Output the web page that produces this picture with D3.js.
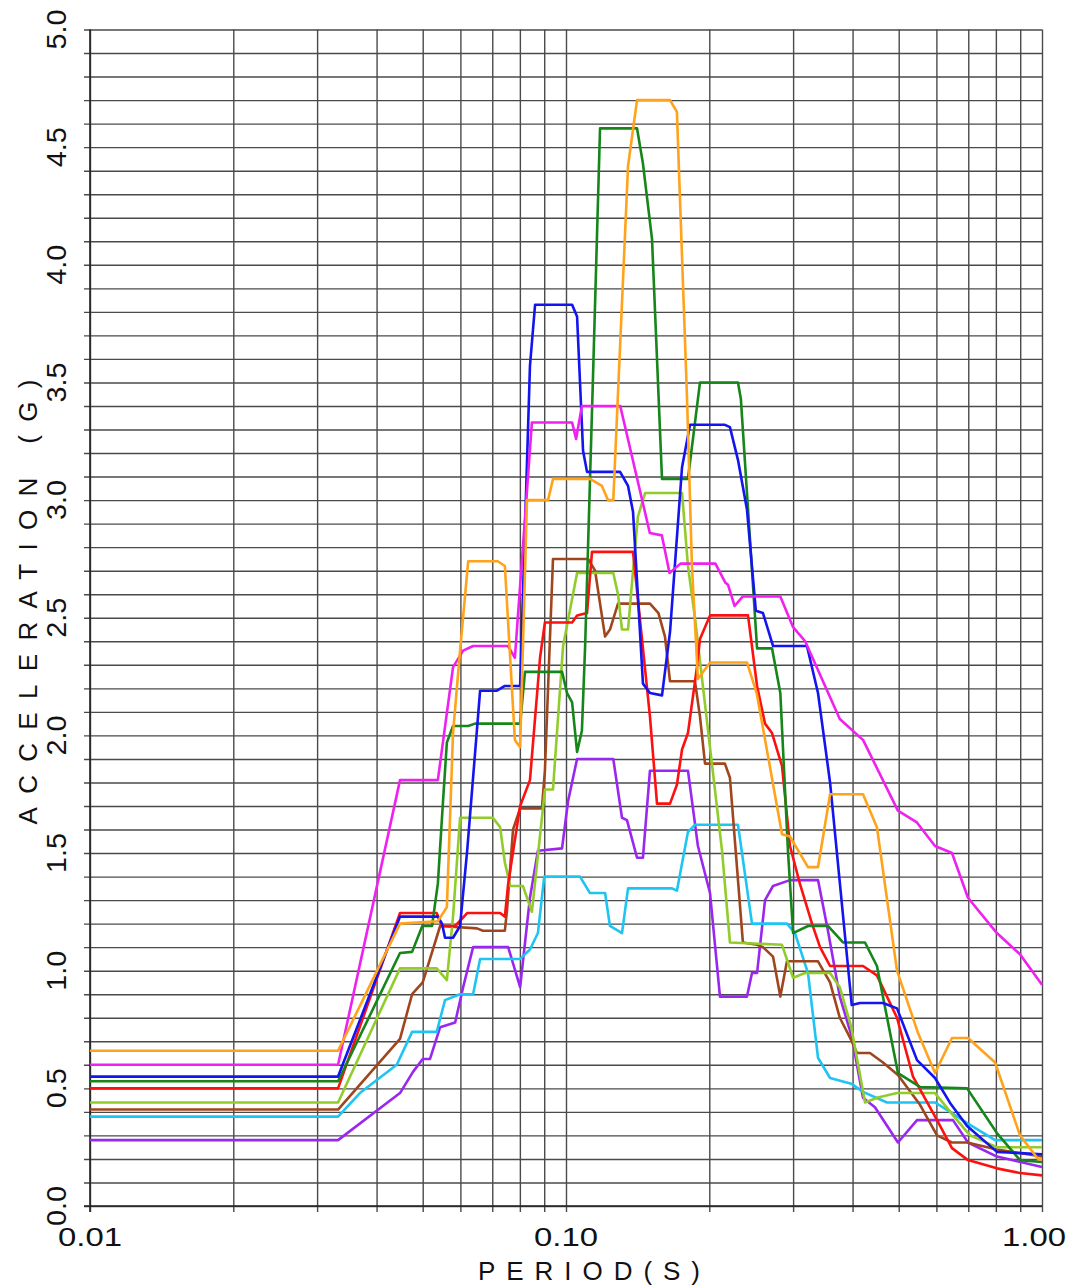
<!DOCTYPE html>
<html>
<head>
<meta charset="utf-8">
<script src="https://cdn.jsdelivr.net/npm/d3@7"></script>
<style>
body{margin:0;background:#fff}
</style>
</head>
<body>
<div id="chart"></div>
<script>
// response spectra, [period (s), acceleration (G)]
var orange = [[0.01,0.66],[0.0332,0.66],[0.0448,1.20],[0.0538,1.21],[0.0562,1.27],[0.0579,2.01],[0.0599,2.36],[0.0623,2.74],[0.0719,2.74],[0.0744,2.72],[0.0781,1.98],[0.0801,1.95],[0.0828,3.00],[0.0917,3.00],[0.0939,3.09],[0.1123,3.09],[0.119,3.06],[0.1225,3.00],[0.1257,3.00],[0.135,4.42],[0.141,4.70],[0.1654,4.70],[0.171,4.65],[0.1796,3.43],[0.1839,2.72],[0.1893,2.24],[0.2007,2.31],[0.240,2.31],[0.2515,2.18],[0.268,1.87],[0.2843,1.58],[0.2955,1.57],[0.3224,1.44],[0.3384,1.44],[0.3587,1.75],[0.4207,1.75],[0.450,1.61],[0.4959,1.00],[0.549,0.735],[0.596,0.565],[0.647,0.714],[0.699,0.714],[0.797,0.61],[0.899,0.30],[0.981,0.20],[1.0,0.196]];
var magenta = [[0.01,0.60],[0.0332,0.60],[0.0448,1.81],[0.0538,1.81],[0.0579,2.29],[0.0608,2.36],[0.0638,2.38],[0.0755,2.38],[0.0781,2.33],[0.0848,3.33],[0.103,3.33],[0.105,3.26],[0.108,3.40],[0.130,3.40],[0.136,3.23],[0.150,2.86],[0.159,2.85],[0.165,2.69],[0.174,2.73],[0.206,2.73],[0.216,2.65],[0.219,2.64],[0.226,2.55],[0.235,2.59],[0.282,2.59],[0.300,2.46],[0.318,2.40],[0.376,2.07],[0.421,1.98],[0.498,1.68],[0.546,1.63],[0.596,1.53],[0.647,1.50],[0.699,1.31],[0.804,1.16],[0.899,1.07],[1.0,0.94]];
var blue = [[0.01,0.55],[0.0332,0.55],[0.0448,1.23],[0.0538,1.23],[0.0549,1.20],[0.0557,1.14],[0.0579,1.14],[0.0599,1.19],[0.062,1.51],[0.066,2.19],[0.0716,2.19],[0.0744,2.21],[0.0801,2.21],[0.084,3.57],[0.0861,3.83],[0.103,3.83],[0.1055,3.78],[0.1086,3.21],[0.1107,3.12],[0.1299,3.12],[0.135,3.06],[0.1383,2.95],[0.1451,2.22],[0.1501,2.18],[0.1591,2.17],[0.1654,2.44],[0.1753,3.14],[0.1822,3.32],[0.2157,3.32],[0.221,3.31],[0.2298,3.17],[0.240,2.96],[0.2505,2.53],[0.2593,2.52],[0.2722,2.38],[0.3208,2.38],[0.3384,2.18],[0.3587,1.80],[0.3984,0.854],[0.4146,0.863],[0.4634,0.863],[0.4959,0.84],[0.5463,0.62],[0.596,0.544],[0.641,0.438],[0.696,0.34],[0.804,0.23],[1.0,0.22]];
var green = [[0.01,0.53],[0.0332,0.53],[0.0448,1.075],[0.0475,1.08],[0.0499,1.19],[0.0523,1.19],[0.0538,1.37],[0.0552,1.73],[0.0562,1.97],[0.0579,2.04],[0.0623,2.04],[0.0644,2.05],[0.0801,2.05],[0.082,2.27],[0.0981,2.27],[0.1005,2.18],[0.103,2.14],[0.1055,1.93],[0.108,2.02],[0.1097,2.38],[0.1139,3.51],[0.1179,4.58],[0.141,4.58],[0.1451,4.43],[0.1516,4.11],[0.1591,3.09],[0.1804,3.09],[0.1912,3.50],[0.2298,3.50],[0.233,3.43],[0.252,2.37],[0.2709,2.37],[0.282,2.18],[0.2926,1.51],[0.300,1.16],[0.3224,1.19],[0.355,1.19],[0.3819,1.12],[0.4248,1.12],[0.450,1.02],[0.4982,0.565],[0.5543,0.506],[0.696,0.50],[0.804,0.31],[0.899,0.195],[1.0,0.187]];
var red = [[0.01,0.50],[0.0332,0.50],[0.0448,1.245],[0.0535,1.245],[0.0549,1.19],[0.0585,1.19],[0.062,1.245],[0.0727,1.245],[0.0744,1.23],[0.0756,1.37],[0.0801,1.70],[0.084,1.81],[0.0882,2.33],[0.0903,2.48],[0.103,2.48],[0.1055,2.51],[0.1107,2.52],[0.1134,2.78],[0.1383,2.78],[0.1501,2.08],[0.1553,1.71],[0.1654,1.71],[0.171,1.79],[0.1753,1.94],[0.1804,2.01],[0.1884,2.29],[0.1912,2.41],[0.2007,2.51],[0.2412,2.51],[0.252,2.21],[0.2619,2.05],[0.2709,2.01],[0.2843,1.87],[0.2955,1.53],[0.310,1.37],[0.3287,1.20],[0.3417,1.10],[0.3587,1.02],[0.4207,1.02],[0.450,0.98],[0.4959,0.80],[0.5358,0.55],[0.6018,0.365],[0.647,0.246],[0.699,0.195],[0.804,0.16],[0.899,0.14],[1.0,0.13]];
var yellowGreen = [[0.01,0.44],[0.0332,0.44],[0.0448,1.01],[0.0535,1.01],[0.0562,0.96],[0.0579,1.23],[0.0599,1.65],[0.0702,1.65],[0.0727,1.61],[0.0744,1.46],[0.0763,1.36],[0.0812,1.36],[0.0848,1.25],[0.0903,1.77],[0.0939,1.77],[0.0986,2.38],[0.1055,2.69],[0.1257,2.69],[0.1286,2.60],[0.1311,2.45],[0.135,2.45],[0.1383,2.70],[0.1416,2.93],[0.1466,3.03],[0.1753,3.03],[0.1804,2.72],[0.1866,2.50],[0.2127,1.51],[0.221,1.12],[0.2843,1.11],[0.300,0.97],[0.3177,0.99],[0.3587,0.99],[0.376,0.93],[0.3975,0.76],[0.4248,0.44],[0.450,0.46],[0.4959,0.48],[0.596,0.48],[0.663,0.365],[0.706,0.30],[0.804,0.25],[1.0,0.25]];
var brown = [[0.01,0.41],[0.0332,0.41],[0.0448,0.71],[0.0475,0.90],[0.05,0.95],[0.0544,1.19],[0.065,1.18],[0.0669,1.17],[0.0744,1.17],[0.0752,1.26],[0.0774,1.60],[0.0801,1.69],[0.089,1.69],[0.0903,1.85],[0.0939,2.75],[0.1113,2.75],[0.1151,2.70],[0.1208,2.42],[0.1237,2.45],[0.1286,2.56],[0.1501,2.56],[0.1564,2.52],[0.1614,2.42],[0.1654,2.23],[0.1866,2.23],[0.1912,2.08],[0.1959,1.88],[0.2157,1.88],[0.221,1.82],[0.2353,1.12],[0.252,1.11],[0.2593,1.10],[0.2722,1.06],[0.282,0.89],[0.2912,1.04],[0.3384,1.04],[0.3587,0.95],[0.376,0.80],[0.3975,0.705],[0.4086,0.65],[0.4351,0.65],[0.4634,0.61],[0.4982,0.557],[0.5543,0.43],[0.6018,0.30],[0.647,0.27],[0.696,0.27],[0.804,0.24],[1.0,0.21]];
var cyan = [[0.01,0.38],[0.0332,0.38],[0.0369,0.48],[0.0441,0.60],[0.0475,0.74],[0.0535,0.74],[0.0557,0.875],[0.0599,0.90],[0.0638,0.90],[0.066,1.05],[0.0801,1.05],[0.084,1.09],[0.0873,1.16],[0.090,1.40],[0.107,1.40],[0.1123,1.33],[0.1208,1.33],[0.1237,1.19],[0.1311,1.16],[0.135,1.35],[0.167,1.35],[0.171,1.34],[0.1804,1.59],[0.1866,1.62],[0.2298,1.62],[0.2459,1.20],[0.2912,1.20],[0.3027,1.16],[0.3224,0.99],[0.3384,0.63],[0.3587,0.544],[0.3975,0.52],[0.4207,0.485],[0.4725,0.44],[0.596,0.44],[0.641,0.40],[0.699,0.35],[0.797,0.28],[1.0,0.28]];
var purple = [[0.01,0.28],[0.0332,0.28],[0.0448,0.48],[0.0477,0.57],[0.05,0.625],[0.0518,0.625],[0.0544,0.76],[0.0585,0.78],[0.0608,0.93],[0.0638,1.10],[0.0756,1.10],[0.0801,0.93],[0.084,1.31],[0.0873,1.51],[0.0981,1.52],[0.101,1.72],[0.1055,1.90],[0.1257,1.90],[0.1311,1.65],[0.1343,1.64],[0.141,1.48],[0.1451,1.48],[0.1501,1.85],[0.1804,1.85],[0.1893,1.53],[0.2007,1.33],[0.2106,0.89],[0.240,0.89],[0.2459,0.99],[0.252,0.99],[0.2619,1.30],[0.2722,1.36],[0.2955,1.385],[0.3384,1.385],[0.3551,1.17],[0.376,0.89],[0.3984,0.72],[0.4207,0.46],[0.4457,0.42],[0.4982,0.27],[0.5463,0.365],[0.650,0.365],[0.699,0.27],[0.804,0.21],[1.0,0.166]];

var yTickLabels = ["0.0","0.5","1.0","1.5","2.0","2.5","3.0","3.5","4.0","4.5","5.0"];
var xTickLabels = ["0.01","0.10","1.00"];

var series = [
    {values: purple, color: "#9a27f0"},
    {values: cyan, color: "#1ec4f2"},
    {values: brown, color: "#a0461e"},
    {values: yellowGreen, color: "#92cc2a"},
    {values: red, color: "#ff1010"},
    {values: green, color: "#16861a"},
    {values: blue, color: "#1414f0"},
    {values: magenta, color: "#f020f0"},
    {values: orange, color: "#ffa21c"}
];

var width = 1069, height = 1286;
var margin = {left: 90, top: 29.5, right: 27, bottom: 80};
var w = width - margin.left - margin.right,
    h = height - margin.top - margin.bottom;

var svg = d3.select("#chart")
    .append("svg")
    .attr("width", width)
    .attr("height", height)
    .style("font-family", "'Liberation Sans', 'DejaVu Sans', sans-serif");

var g = svg.append("g")
    .attr("transform", "translate(" + margin.left + "," + margin.top + ")");

var x = d3.scaleLog().domain([0.01, 1]).range([0, w]);
var y = d3.scaleLinear().domain([0, 5]).range([h, 0]);

// grid: every 0.1 G, log decades
var yGrid = d3.range(0, 51).map(function(i){ return i / 10; });
var xGrid = [];
[0.01, 0.1].forEach(function(dec){
    for (var k = 1; k < 10; k++) xGrid.push(dec * k);
});
xGrid.push(1);

g.append("g")
    .attr("class", "ygrid")
    .call(d3.axisLeft(y).tickValues(yGrid).tickSize(-w).tickSizeOuter(0).tickFormat(""))
    .call(function(s){
        s.select(".domain").remove();
        s.selectAll("line").attr("x1", -6).attr("stroke", "#4a4a4a").attr("stroke-width", 1.4);
    });

g.append("g")
    .attr("class", "xgrid")
    .attr("transform", "translate(0," + h + ")")
    .call(d3.axisBottom(x).tickValues(xGrid).tickSize(-h).tickSizeOuter(0).tickFormat(""))
    .call(function(s){
        s.select(".domain").remove();
        s.selectAll("line").attr("y1", 6).attr("stroke", "#4a4a4a").attr("stroke-width", 1.4);
    });

// axis lines
g.append("line").attr("x1", 0).attr("x2", 0).attr("y1", 0).attr("y2", h + 6)
    .attr("stroke", "#222").attr("stroke-width", 1.6);
g.append("line").attr("x1", -6).attr("x2", w).attr("y1", h).attr("y2", h)
    .attr("stroke", "#222").attr("stroke-width", 1.6);

var line = d3.line()
    .x(function(d){ return x(d[0]); })
    .y(function(d){ return y(d[1]); });

g.selectAll(".spec")
    .data(series).enter().append("path")
        .attr("class", "spec")
        .attr("d", function(d){ return line(d.values); })
        .attr("fill", "none")
        .attr("stroke", function(d){ return d.color; })
        .attr("stroke-width", 2.6)
        .attr("stroke-linejoin", "round");

// y tick labels (rotated)
g.selectAll(".ylab")
    .data(yTickLabels).enter().append("text")
        .attr("class", "ylab")
        .attr("transform", function(d){ return "translate(-24," + y(+d) + ") rotate(-90)"; })
        .attr("text-anchor", "middle")
        .attr("font-size", 27)
        .attr("textLength", 40)
        .attr("lengthAdjust", "spacingAndGlyphs")
        .attr("fill", "#111")
        .text(function(d){ return d; });

// x tick labels
g.selectAll(".xlab")
    .data(xTickLabels).enter().append("text")
        .attr("class", "xlab")
        .attr("x", function(d, i){ return x(+d) - (i === xTickLabels.length - 1 ? 8 : 0); })
        .attr("y", h + 40)
        .attr("text-anchor", "middle")
        .attr("font-size", 26)
        .attr("textLength", 64)
        .attr("lengthAdjust", "spacingAndGlyphs")
        .attr("fill", "#111")
        .text(function(d){ return d; });

// axis titles
svg.append("text")
    .attr("x", 589)
    .attr("y", 1280)
    .attr("text-anchor", "middle")
    .attr("font-size", 26)
    .attr("textLength", 222)
    .attr("lengthAdjust", "spacing")
    .attr("fill", "#111")
    .text("PERIOD(S)");

svg.append("text")
    .attr("transform", "translate(37,602) rotate(-90)")
    .attr("text-anchor", "middle")
    .attr("font-size", 26)
    .attr("textLength", 445)
    .attr("lengthAdjust", "spacing")
    .attr("fill", "#111")
    .text("ACCELERATION (G)");
</script>
</body>
</html>
